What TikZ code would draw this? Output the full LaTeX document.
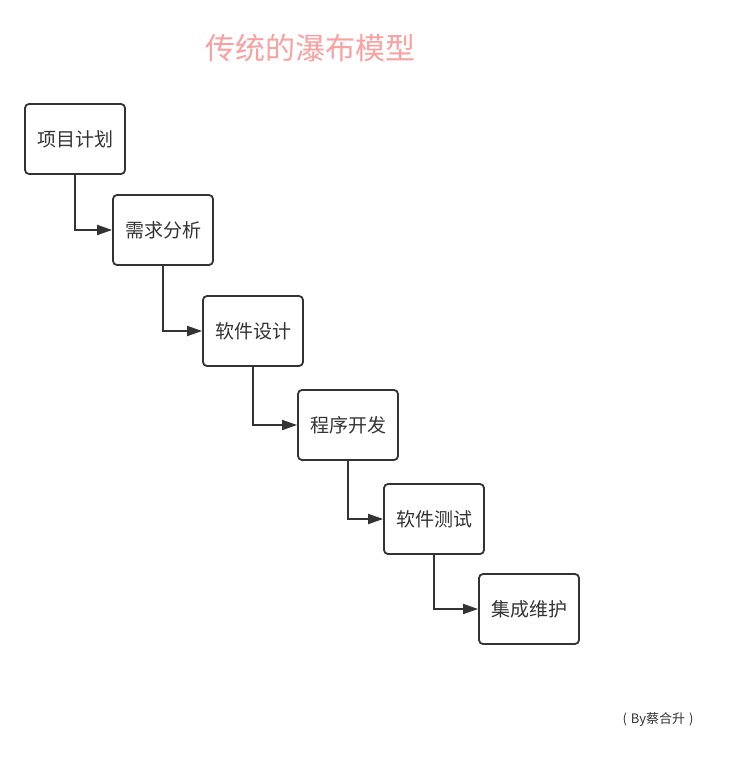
\documentclass[tikz,border=0pt]{standalone}
\usepackage{fontspec}
\newfontfamily\cjk{Noto Sans CJK SC}
\usetikzlibrary{arrows.meta}
\definecolor{ink}{HTML}{333333}
\definecolor{titlepink}{HTML}{F9A0A0}
\tikzset{
  stepbox/.style={draw=ink, line width=1.8pt, rounded corners=4pt, minimum width=100pt, minimum height=70pt, inner sep=0pt, font=\cjk\fontsize{19}{21}\selectfont, text=ink, fill=white},
  flow/.style={draw=ink, line width=1.8pt, -{Triangle[length=15pt,width=10pt]}}
}
\begin{document}
\begin{tikzpicture}[x=1pt,y=-1pt]
\useasboundingbox (0,0) rectangle (743,765);
\node[font=\cjk\fontsize{30}{32}\selectfont, text=titlepink] (title) at (310,48) {传统的瀑布模型};
\node[stepbox] (a) at (75,139) {\raisebox{-3pt}{项目计划}};
\node[stepbox] (b) at (163,230) {\raisebox{-3pt}{需求分析}};
\node[stepbox] (c) at (253,331) {\raisebox{-3pt}{软件设计}};
\node[stepbox] (d) at (348,425) {\raisebox{-3pt}{程序开发}};
\node[stepbox] (e) at (434,519) {\raisebox{-3pt}{软件测试}};
\node[stepbox] (f) at (529,609) {\raisebox{-3pt}{集成维护}};
\draw[flow] (a.south) |- (b.west);
\draw[flow] (b.south) |- (c.west);
\draw[flow] (c.south) |- (d.west);
\draw[flow] (d.south) |- (e.west);
\draw[flow] (e.south) |- (f.west);
\node[font=\cjk\fontsize{13}{15}\selectfont, text=ink] (by) at (658,720) {(\hspace{4pt}By蔡合升\hspace{4pt})};
\end{tikzpicture}
\end{document}
